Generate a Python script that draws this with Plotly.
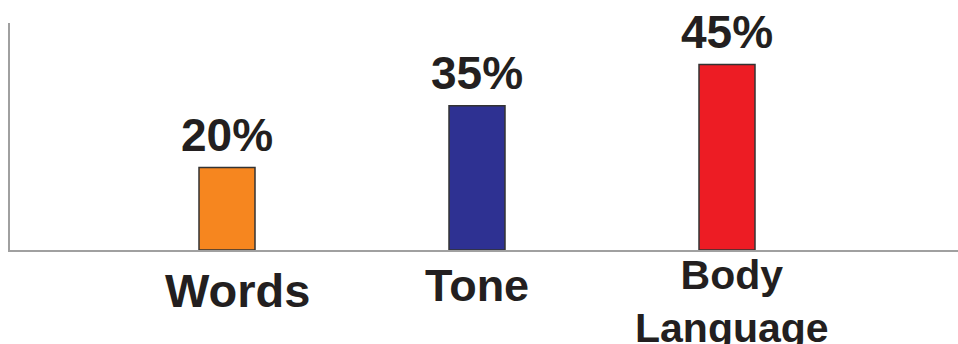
import plotly.graph_objects as go

categories = ["Words", "Tone", "Body Language"]
tick_labels = ["Words", "Tone", "Body<br>Language"]
values = [20, 35, 45]
value_labels = ["20%", "35%", "45%"]
colors = ["#F6861F", "#2E3192", "#ED1C24"]
label_sizes = [47, 45, 41]
label_shifts = [-40, -35, -51]
label_xshifts = [10, 0, 5]

TXT = "#231F20"
FONT = "Liberation Sans, Arial, sans-serif"

fig = go.Figure(go.Bar(
    x=[0, 1, 2], y=values, width=0.224,
    marker=dict(color=colors, line=dict(color="#333333", width=1.5)),
    hoverinfo="skip",
))

ann = []
for i, (v, t) in enumerate(zip(values, value_labels)):
    ann.append(dict(x=i, y=v, xref="x", yref="y", text="<b>%s</b>" % t, showarrow=False,
                    yanchor="middle", yshift=33, font=dict(size=46, color=TXT, family=FONT)))
for i, (t, s, sh, xs) in enumerate(zip(tick_labels, label_sizes, label_shifts, label_xshifts)):
    ann.append(dict(x=i, y=0, xref="x", yref="y", text="<b>%s</b>" % t, showarrow=False,
                    yanchor="middle", yshift=sh, xshift=xs,
                    font=dict(size=s, color=TXT, family=FONT)))

fig.update_layout(
    width=958, height=344,
    margin=dict(l=10, r=0, t=23, b=94),
    paper_bgcolor="white", plot_bgcolor="white",
    showlegend=False,
    xaxis=dict(range=[-0.868, 2.924], showticklabels=False, showgrid=False, zeroline=False,
               showline=True, linecolor="#A0A0A0", linewidth=1.5, ticks=""),
    yaxis=dict(range=[0, 55.1], showticklabels=False, showgrid=False, zeroline=False,
               showline=True, linecolor="#A0A0A0", linewidth=1.5, ticks=""),
    annotations=ann,
)

fig.write_html("out.html")
